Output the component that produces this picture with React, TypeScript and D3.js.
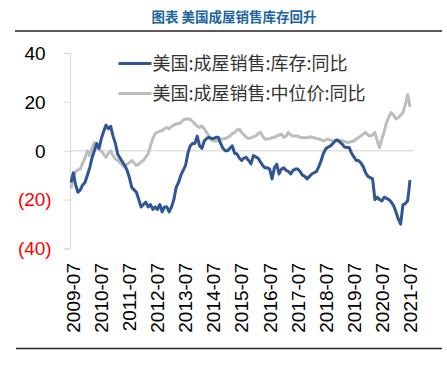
import React, { useRef, useEffect } from 'react';
import * as d3 from 'd3';

// Monthly data, 2009-06 .. 2021-07
const startYear = 2009;
const startMonth = 6;

// 美国:成屋销售:库存:同比 (%)
const inventoryYoY = [
  -13, -9, -14, -17, -16, -14, -13, -10, -7, -3,
  0, 3, 1, 5, 8, 10.5, 9, 10, 6, 3,
  -1.5, -3, -4.5, -6, -8, -11, -15, -16, -17, -20,
  -23, -22, -21, -23, -22, -24, -23, -24, -22, -25,
  -23, -23, -25, -23, -20, -15, -13, -10, -8, -6,
  -1, 2, 3, 3, 6, 2, 1, 4, 5, 5.5,
  5, 5, 5.5, 5.5, 3, 1, 0, 0, 1, 2,
  -1, -1.3, -3, -4, -3, -2.7, -4, -5.4, -2, -2.5,
  -3, -4.5, -6, -7, -7, -7.5, -11.5, -7, -5.5, -9.5,
  -7.5, -7, -8, -8.5, -9.5, -8, -7.5, -7.5, -8.5, -10,
  -10.5, -11.5, -10.5, -9.5, -9, -8.5, -6.5, -4, -1, 0.8,
  1.5, 2, 3, 4, 4.4, 3.5, 2.7, 1.5, 1.3, 1.3,
  -1, -2.5, -4, -4, -5, -6.5, -9, -10.5, -11, -11.5,
  -20, -19, -20, -20.5, -19, -19.5, -20, -21, -22.5, -25,
  -28, -30, -22, -21.6, -20.5, -12
];

// 美国:成屋销售:中位价:同比 (%)
const medianPriceYoY = [
  -15.5, -11, -8.5, -7.8, -7.4, -5, -3, 0, -2, 1,
  3.4, 1.5, 0.5, 0, -1.5, -2.7, -1, 0, -2, -3.3,
  -4, -4.8, -6, -6.8, -5.5, -4.8, -4, -5, -6, -5.5,
  -4.5, -4, -2.5, -1.3, 2, 5, 7, 7.5, 8, 8.2,
  9, 9.5, 9, 10, 10.5, 11, 11, 11.6, 12.5, 13,
  13, 12.8, 12, 11, 10, 9.5, 10.2, 9, 7.5, 6,
  4.5, 4, 4, 4.2, 4.8, 4.8, 5, 5.5, 6, 7,
  7.5, 8.5, 8.8, 7.5, 6.5, 5.5, 5, 5.4, 5.7, 6,
  7, 7.5, 6, 4.8, 4.8, 5, 5.3, 5.5, 6, 6.5,
  6.8, 5.5, 6, 7.5, 6.5, 6, 6, 6, 5.5, 5.3,
  5.3, 5.3, 5.7, 5.5, 5.3, 5, 4.8, 4.5, 4, 4.5,
  4.8, 4.3, 4, 4.2, 4.4, 4.2, 4, 3.8, 3.5, 3.4,
  3.8, 4, 4.8, 5.4, 6, 6.8, 7.5, 6.5, 6, 6.5,
  7.5, 4, 1.3, 5, 8, 11.6, 14, 15.6, 14.5, 13,
  13.6, 14.5, 15.6, 19, 23, 18
];

const yTicks = [40, 20, 0, -20, -40];
const xTickYears = [2009, 2010, 2011, 2012, 2013, 2014, 2015, 2016, 2017, 2018, 2019, 2020, 2021];

const seriesNames = ['美国:成屋销售:库存:同比', '美国:成屋销售:中位价:同比'];
const seriesColors = ['#2f5597', '#bdbdbd'];

const App: React.FC = () => {
  const svgRef = useRef<SVGSVGElement>(null);

  useEffect(() => {
    if (!svgRef.current) return;
    const svg = d3.select(svgRef.current);
    svg.selectAll('*').remove();

    const cjk = '"Noto Sans CJK SC", "Noto Sans", sans-serif';
    const num = '"Liberation Sans", Arial, sans-serif';

    // month index -> x
    const x = d3.scaleLinear().domain([1, 145]).range([73.3, 410]);
    const y = d3.scaleLinear().domain([-40, 40]).range([248.5, 53]);

    // title + rules
    svg.append('text')
      .attr('x', 234)
      .attr('y', 22)
      .attr('text-anchor', 'middle')
      .attr('font-family', cjk)
      .attr('font-size', 13.5)
      .attr('font-weight', 'bold')
      .attr('fill', '#1d65a0')
      .text('图表 美国成屋销售库存回升');

    svg.append('line')
      .attr('x1', 15).attr('x2', 442)
      .attr('y1', 31).attr('y2', 31)
      .attr('stroke', '#222').attr('stroke-width', 1.6);

    svg.append('line')
      .attr('x1', 16).attr('x2', 442)
      .attr('y1', 348.5).attr('y2', 348.5)
      .attr('stroke', '#222').attr('stroke-width', 1.6);

    // zero gridline
    svg.append('line')
      .attr('x1', 70).attr('x2', 413)
      .attr('y1', y(0)).attr('y2', y(0))
      .attr('stroke', '#e0e0e0').attr('stroke-width', 1.5);

    // y axis
    const yAxis = svg.append('g')
      .attr('transform', 'translate(70,0)')
      .call(d3.axisLeft(y).tickValues(yTicks).tickSize(6).tickFormat(() => ''));
    yAxis.select('.domain').attr('stroke', '#d9d9d9');
    yAxis.selectAll('.tick line').attr('stroke', '#d9d9d9');

    yTicks.forEach(t => {
      svg.append('text')
        .attr('x', t < 0 ? 51.7 : 45.7)
        .attr('y', y(t))
        .attr('dy', '0.36em')
        .attr('text-anchor', 'end')
        .attr('font-family', num)
        .attr('font-size', 19)
        .attr('fill', t < 0 ? '#ff0000' : '#000')
        .text(t < 0 ? `(${Math.abs(t)})` : `${t}`);
    });

    // x labels (July of each year)
    xTickYears.forEach(yr => {
      const idx = (yr - startYear) * 12 + (7 - startMonth);
      svg.append('text')
        .attr('transform', `translate(${x(idx)},263) rotate(-90)`)
        .attr('dy', '0.36em')
        .attr('text-anchor', 'end')
        .attr('font-family', num)
        .attr('font-size', 19)
        .attr('fill', '#000')
        .text(`${yr}-07`);
    });

    const line = d3.line<number>()
      .x((d, i) => x(i))
      .y(d => y(d));

    svg.append('path')
      .datum(medianPriceYoY)
      .attr('fill', 'none')
      .attr('stroke', seriesColors[1])
      .attr('stroke-width', 3)
      .attr('stroke-linejoin', 'round')
      .attr('d', line);

    svg.append('path')
      .datum(inventoryYoY)
      .attr('fill', 'none')
      .attr('stroke', seriesColors[0])
      .attr('stroke-width', 3)
      .attr('stroke-linejoin', 'round')
      .attr('d', line);

    // legend
    seriesNames.forEach((name, i) => {
      const ly = 63.5 + i * 30;
      svg.append('line')
        .attr('x1', 118.5).attr('x2', 151.5)
        .attr('y1', ly).attr('y2', ly)
        .attr('stroke', seriesColors[i])
        .attr('stroke-width', 3);
      svg.append('text')
        .attr('x', 152.5)
        .attr('y', ly)
        .attr('dy', '0.36em')
        .attr('font-family', cjk)
        .attr('font-size', 18)
        .attr('fill', '#333')
        .text(name);
    });
  }, []);

  return (
    <svg
      ref={svgRef}
      width={447}
      height={368}
      style={{ position: 'fixed', left: 0, top: 0, background: '#fff' }}
    />
  );
};

export default App;
